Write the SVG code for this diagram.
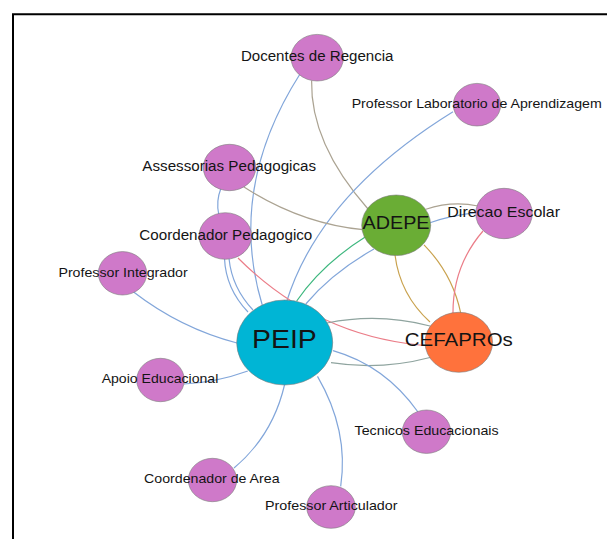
<svg xmlns="http://www.w3.org/2000/svg" width="607" height="539" viewBox="0 0 607 539">
<style>
.e{fill:none;stroke-width:1.2}
.b{stroke:#82A6DA}
.t{stroke:#ABA392}
.g{stroke:#3DB77E}
.r{stroke:#EB7D88}
.o{stroke:#C9A24E}
.s{stroke:#8FA49F}
.n{stroke:#7a7a7a;stroke-width:0.6}
.p{fill:#CF79C9}
text{font-family:"Liberation Sans",Arial,sans-serif;fill:#141414;text-anchor:middle}
.l13{font-size:13px}
.l14{font-size:14px}
.l15{font-size:15px}
</style>
<rect width="607" height="539" fill="#fff"/>
<path d="M13,539 V14.3 H607" fill="none" stroke="#000" stroke-width="2"/>
<g id="connectors">
<path class="e b" d="M300,74 Q226.8,189 262.5,306"/>
<path class="e t" d="M311.6,80.8 Q310.3,143.6 368,209"/>
<path class="e b" d="M453,111.7 Q320.3,193.8 286.5,302"/>
<path class="e t" d="M244,187 Q301,223.7 363,229.6"/>
<path class="e b" d="M220.7,189 Q216,201 218.7,214"/>
<path class="e b" d="M224.5,258.5 Q225.8,288.8 248,312"/>
<path class="e b" d="M229,258.5 Q232,287.8 253,310"/>
<path class="e r" d="M238,258 Q319,339 432,346"/>
<path class="e g" d="M296.7,301 Q322.3,263.7 366.7,236"/>
<path class="e b" d="M305.8,304 Q332.3,272.5 374,249"/>
<path class="e t" d="M425.9,209.3 Q452,200.5 478,206"/>
<path class="e b" d="M430,222.7 Q453,215 477,212.7"/>
<path class="e o" d="M395,255 Q400.1,294.9 430,322"/>
<path class="e o" d="M424,244.8 Q452.6,274.2 460.7,313"/>
<path class="e r" d="M483,231 Q452.5,266.4 453,314"/>
<path class="e s" d="M327,323 Q378.5,312.5 430,326"/>
<path class="e s" d="M331,362.7 Q380.4,370.5 430,357.5"/>
<path class="e b" d="M133.6,292 Q180.6,328.3 237,343"/>
<path class="e b" d="M247.8,371 Q216,382.5 184,384"/>
<path class="e b" d="M333,350.6 Q385.2,365.6 418,412"/>
<path class="e b" d="M284.5,385 Q272.7,435.5 234,468"/>
<path class="e b" d="M317.5,376.4 Q349,430.6 340.7,486.4"/>
</g>
<g id="n-docentes"><ellipse class="n p" cx="317.2" cy="57.7" rx="26.2" ry="23.3"/><text class="l14" x="317.2" y="61.4" textLength="152.6" lengthAdjust="spacingAndGlyphs">Docentes de Regencia</text></g>
<g id="n-proflab"><ellipse class="n p" cx="477" cy="104.7" rx="23.7" ry="21.3"/><text class="l13" x="476.7" y="108" textLength="250" lengthAdjust="spacingAndGlyphs">Professor Laboratorio de Aprendizagem</text></g>
<g id="n-assessorias"><ellipse class="n p" cx="229.5" cy="167.5" rx="26.2" ry="23.2"/><text class="l14" x="229.2" y="171.2" textLength="173.7" lengthAdjust="spacingAndGlyphs">Assessorias Pedagogicas</text></g>
<g id="n-coordped"><ellipse class="n p" cx="225.3" cy="236" rx="26.3" ry="23.3"/><text class="l14" x="225.8" y="240.2" textLength="173" lengthAdjust="spacingAndGlyphs">Coordenador Pedagogico</text></g>
<g id="n-profint"><ellipse class="n p" cx="122.5" cy="273.3" rx="24.2" ry="21.7"/><text class="l13" x="123.1" y="277" textLength="129.3" lengthAdjust="spacingAndGlyphs">Professor Integrador</text></g>
<g id="n-direcao"><ellipse class="n p" cx="504" cy="213.5" rx="28.3" ry="25.2"/><text class="l15" x="503.7" y="217.4" textLength="112.7" lengthAdjust="spacingAndGlyphs">Direcao Escolar</text></g>
<g id="n-adepe"><ellipse class="n" fill="#6AAD35" cx="396.2" cy="225.3" rx="34.5" ry="30.3"/><text x="396" y="229.3" font-size="18" textLength="67" lengthAdjust="spacingAndGlyphs">ADEPE</text></g>
<g id="n-peip"><ellipse class="n" fill="#00B5D5" cx="284.7" cy="342.5" rx="48" ry="42.5"/><text x="284.4" y="348.3" font-size="26" textLength="64.7" lengthAdjust="spacingAndGlyphs">PEIP</text></g>
<g id="n-cefapros"><ellipse class="n" fill="#FF723C" cx="458.8" cy="342.3" rx="33.8" ry="30"/><text x="458.8" y="346" font-size="18" textLength="108" lengthAdjust="spacingAndGlyphs">CEFAPROs</text></g>
<g id="n-apoio"><ellipse class="n p" cx="160.5" cy="380" rx="23.8" ry="21.7"/><text class="l13" x="160" y="383" textLength="116.7" lengthAdjust="spacingAndGlyphs">Apoio Educacional</text></g>
<g id="n-tecnicos"><ellipse class="n p" cx="426.5" cy="431.7" rx="24.2" ry="21.7"/><text class="l13" x="426.6" y="435" textLength="144" lengthAdjust="spacingAndGlyphs">Tecnicos Educacionais</text></g>
<g id="n-coordarea"><ellipse class="n p" cx="212.5" cy="480" rx="24.2" ry="21.7"/><text class="l13" x="211.8" y="483" textLength="135.5" lengthAdjust="spacingAndGlyphs">Coordenador de Area</text></g>
<g id="n-profart"><ellipse class="n p" cx="331" cy="507" rx="24.3" ry="21.3"/><text class="l13" x="331.3" y="510" textLength="132.4" lengthAdjust="spacingAndGlyphs">Professor Articulador</text></g>
</svg>
